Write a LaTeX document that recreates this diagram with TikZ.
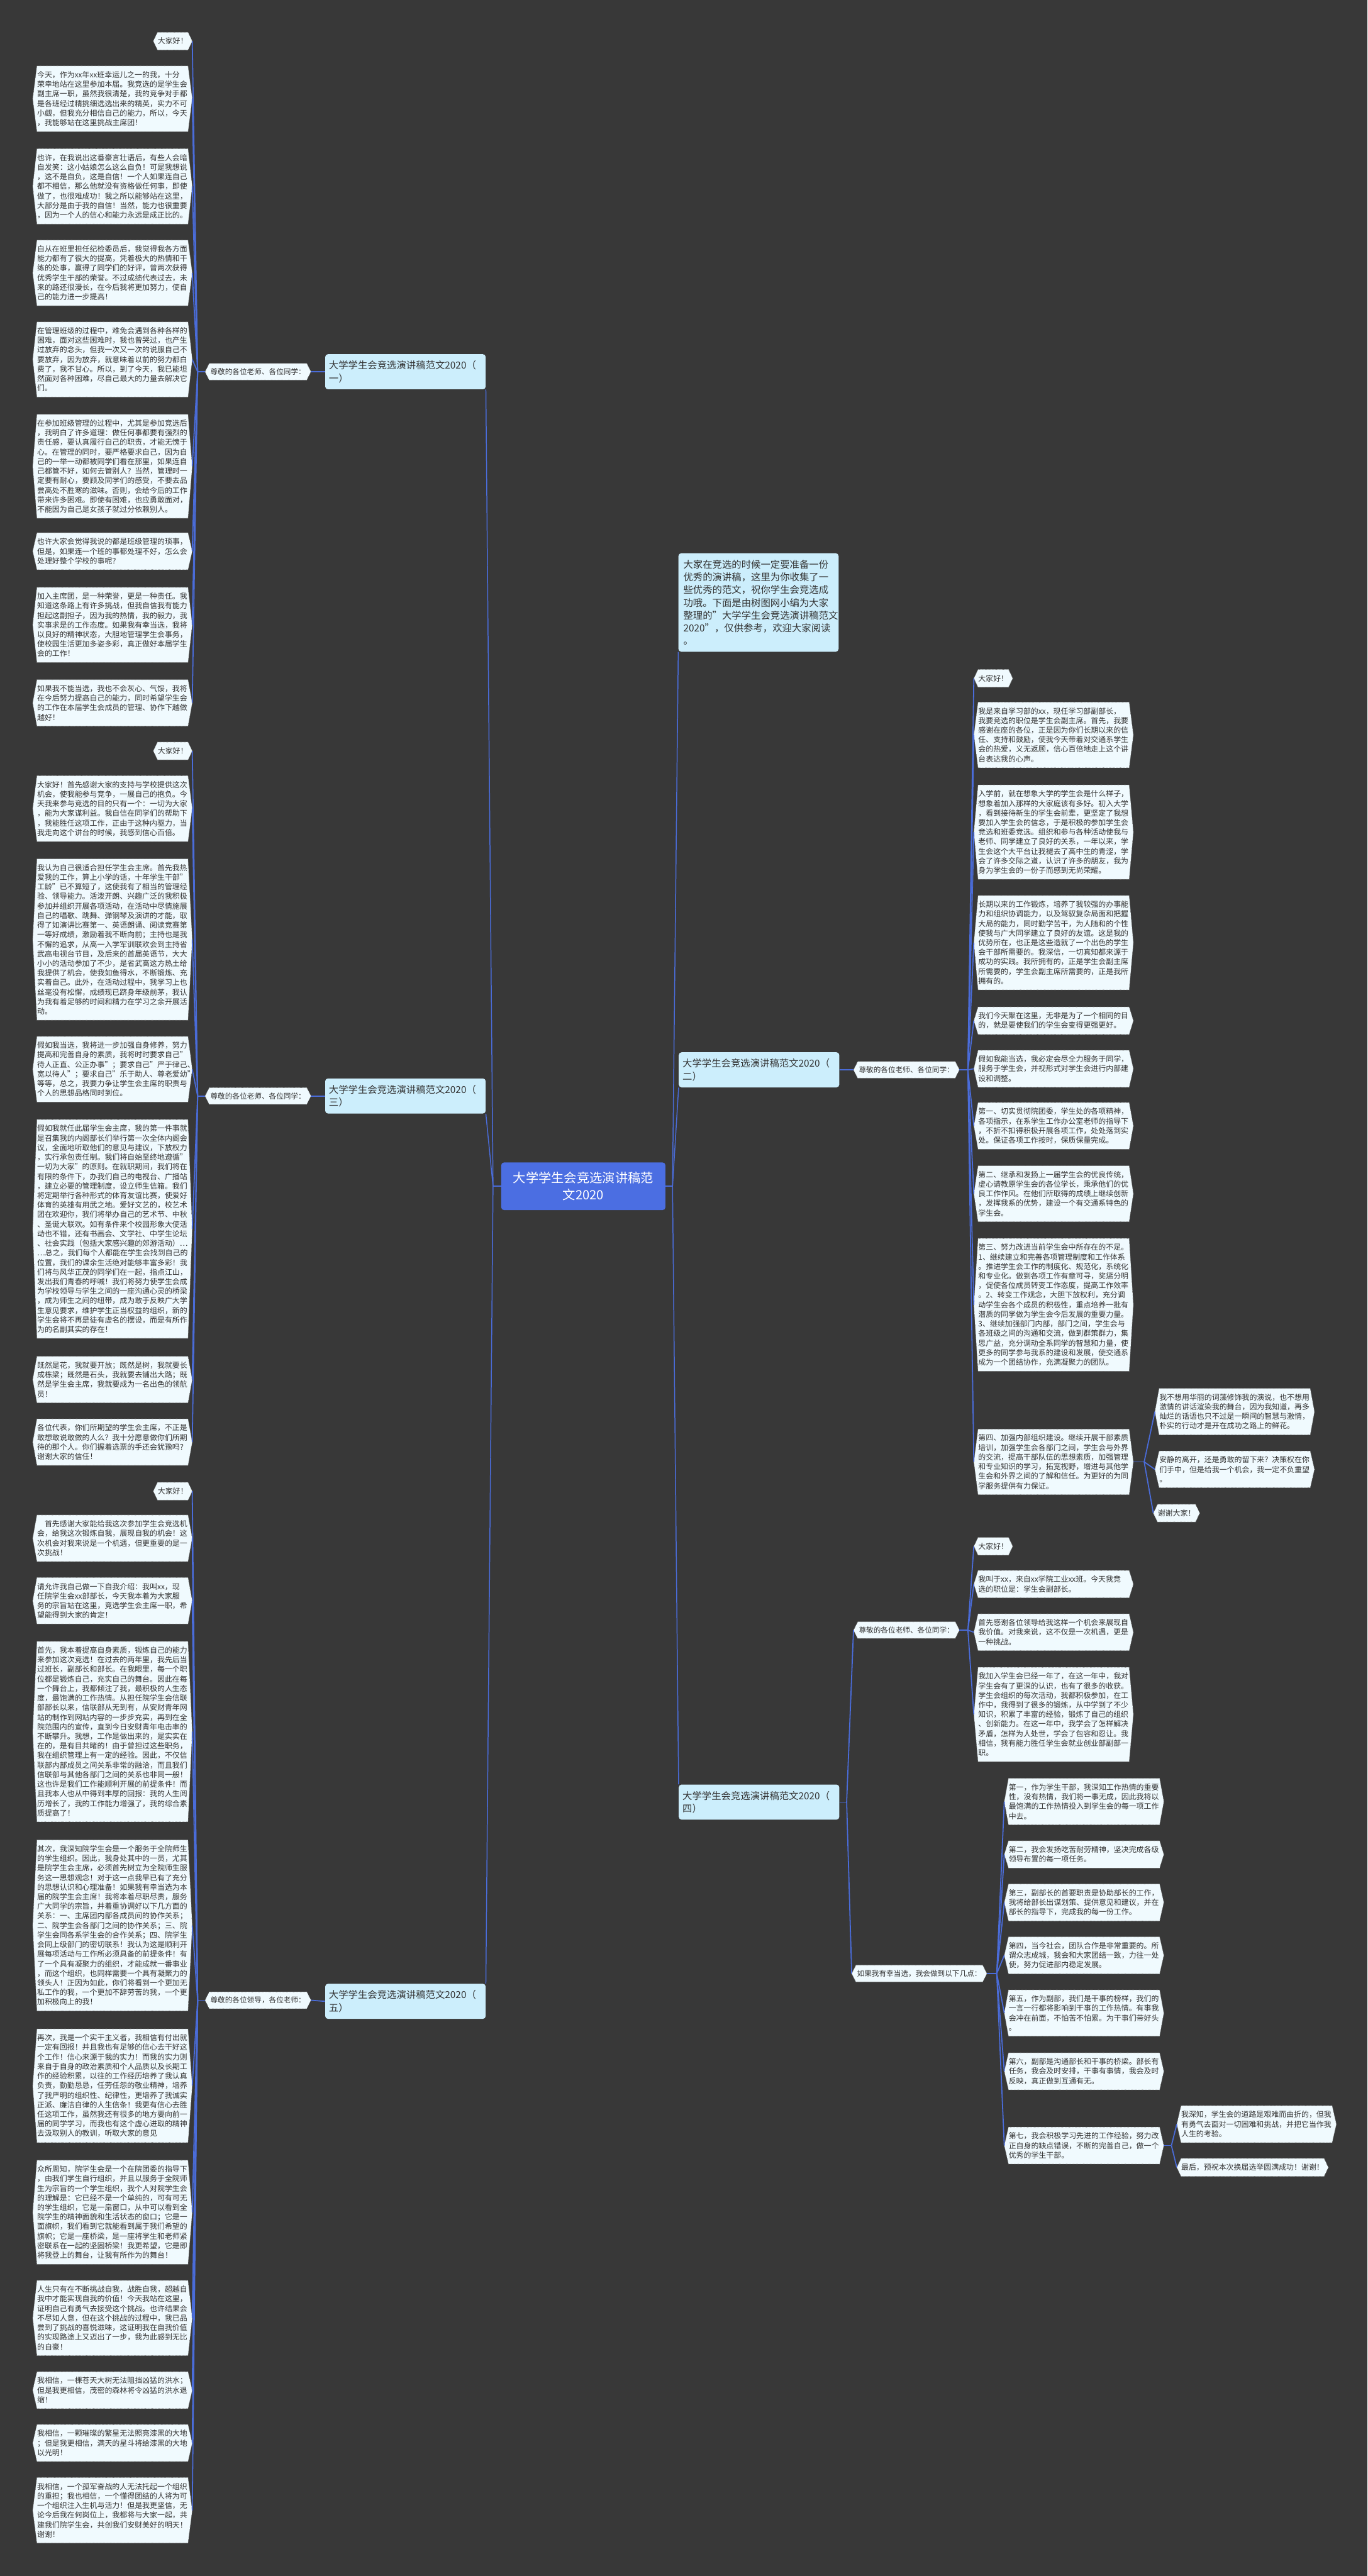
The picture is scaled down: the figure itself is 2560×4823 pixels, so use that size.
\documentclass[tikz,border=0pt]{standalone}
\usepackage{fontspec}
\setmainfont{Noto Sans CJK SC}
\setlength{\parindent}{0pt}

\definecolor{bgdark}{HTML}{383838}
\definecolor{linkblue}{HTML}{4A6CD9}
\definecolor{rootblue}{HTML}{4B6EE2}
\definecolor{branchfill}{HTML}{CCEEFC}
\definecolor{leaffill}{HTML}{F0FAFE}
\definecolor{inkgray}{HTML}{333333}

\makeatletter
\def\hextip{4.5pt}
\pgfdeclareshape{hexbox}{%
  \inheritsavedanchors[from=rectangle]%
  \inheritanchorborder[from=rectangle]%
  \inheritanchor[from=rectangle]{center}%
  \inheritanchor[from=rectangle]{north}%
  \inheritanchor[from=rectangle]{south}%
  \inheritanchor[from=rectangle]{east}%
  \inheritanchor[from=rectangle]{west}%
  \inheritanchor[from=rectangle]{north east}%
  \inheritanchor[from=rectangle]{north west}%
  \inheritanchor[from=rectangle]{south east}%
  \inheritanchor[from=rectangle]{south west}%
  \anchor{tip east}{\southwest\pgf@ya=\pgf@y\northeast\pgf@y=.5\pgf@y\advance\pgf@y by .5\pgf@ya\advance\pgf@x by \hextip}%
  \anchor{tip west}{\northeast\pgf@ya=\pgf@y\southwest\pgf@y=.5\pgf@y\advance\pgf@y by .5\pgf@ya\advance\pgf@x by -\hextip}%
  \backgroundpath{%
    \southwest\edef\hxl{\the\pgf@x}\edef\hxb{\the\pgf@y}%
    \northeast\edef\hxr{\the\pgf@x}\edef\hxt{\the\pgf@y}%
    \pgfmathsetlengthmacro\hxm{(\hxb+\hxt)/2}%
    \pgfpathmoveto{\pgfpoint{\hxl}{\hxb}}%
    \pgfpathlineto{\pgfpoint{\hxr}{\hxb}}%
    \pgfpathlineto{\pgfpoint{\hxr+\hextip}{\hxm}}%
    \pgfpathlineto{\pgfpoint{\hxr}{\hxt}}%
    \pgfpathlineto{\pgfpoint{\hxl}{\hxt}}%
    \pgfpathlineto{\pgfpoint{\hxl-\hextip}{\hxm}}%
    \pgfpathclose
  }%
}
\makeatother

\begin{document}
\begin{tikzpicture}[x=0.02cm, y=-0.02cm,
  root/.style={rectangle, rounded corners=3pt, fill=rootblue, text=white,
    text width=160pt, align=center, inner xsep=7.5pt, inner ysep=10pt,
    font=\fontsize{13.6pt}{18.1pt}\selectfont},
  branch/.style={rectangle, rounded corners=3pt, fill=branchfill, text=inkgray,
    text width=163pt, align=left, inner xsep=4pt, inner ysep=7pt,
    font=\fontsize{10.3pt}{13.6pt}\selectfont},
  tag/.style={hexbox, fill=leaffill, draw=black!55, densely dotted, line width=0.5pt,
    text=inkgray, inner xsep=1pt, inner ysep=5pt,
    font=\fontsize{7.8pt}{9pt}\selectfont},
  leaf/.style={tag, inner xsep=0pt, inner ysep=5.5pt,
    font=\fontsize{8pt}{10.2pt}\selectfont},
  para/.style={leaf, text width=160.5pt, align=left},
  link/.style={draw=linkblue, line width=1.2pt},
  trunk/.style={draw=linkblue, line width=1pt}
]
\fill[bgdark] (0,0) rectangle (2560,4823);

\node[root] (root) at (1092,2221) {大学学生会竞选演讲稿范\\文2020};

\node[branch] (b1) at (759,696) {大学学生会竞选演讲稿范文2020（\\一）};
\node[branch] (b3) at (759,2052) {大学学生会竞选演讲稿范文2020（\\三）};
\node[branch] (b5) at (759,3747) {大学学生会竞选演讲稿范文2020（\\五）};
\node[branch, text width=160pt, inner xsep=5.3pt] (intro) at (1420,1128) {大家在竞选的时候一定要准备一份\\优秀的演讲稿，这里为你收集了一\\些优秀的范文，祝你学生会竞选成\\功哦。下面是由树图网小编为大家\\整理的"大学学生会竞选演讲稿范文\\2020"，仅供参考，欢迎大家阅读\\。};
\node[branch] (b2) at (1421,2003) {大学学生会竞选演讲稿范文2020（\\二）};
\node[branch] (b4) at (1421,3374) {大学学生会竞选演讲稿范文2020（\\四）};

\node[tag] (ta) at (483,696) {尊敬的各位老师、各位同学：};
\node[tag] (tc) at (483,2052) {尊敬的各位老师、各位同学：};
\node[tag] (te) at (483,3745) {尊敬的各位领导，各位老师：};
\node[tag] (tb) at (1697,2003) {尊敬的各位老师、各位同学：};
\node[tag] (td) at (1697,3052) {尊敬的各位老师、各位同学：};
\node[tag] (tf) at (1721,3695) {如果我有幸当选，我会做到以下几点：};

\node[leaf, anchor=east] (a1) at (352,77) {大家好！};
\node[para, anchor=east] (a2) at (352,185) {今天，作为xx年xx班幸运儿之一的我，十分\\荣幸地站在这里参加本届。我竞选的是学生会\\副主席一职，虽然我很清楚，我的竞争对手都\\是各班经过精挑细选选出来的精英，实力不可\\小觑，但我充分相信自己的能力，所以，今天\\，我能够站在这里挑战主席团！};
\node[para, anchor=east] (a3) at (352,349) {也许，在我说出这番豪言壮语后，有些人会暗\\自发笑：这小姑娘怎么这么自负！可是我想说\\，这不是自负，这是自信！一个人如果连自己\\都不相信，那么他就没有资格做任何事，即使\\做了，也很难成功！我之所以能够站在这里，\\大部分是由于我的自信！当然，能力也很重要\\，因为一个人的信心和能力永远是成正比的。};
\node[para, anchor=east] (a4) at (352,511) {自从在班里担任纪检委员后，我觉得我各方面\\能力都有了很大的提高，凭着极大的热情和干\\练的处事，赢得了同学们的好评，曾两次获得\\优秀学生干部的荣誉。不过成绩代表过去，未\\来的路还很漫长，在今后我将更加努力，使自\\己的能力进一步提高！};
\node[para, anchor=east] (a5) at (352,673) {在管理班级的过程中，难免会遇到各种各样的\\困难，面对这些困难时，我也曾哭过，也产生\\过放弃的念头，但我一次又一次的说服自己不\\要放弃，因为放弃，就意味着以前的努力都白\\费了，我不甘心。所以，到了今天，我已能坦\\然面对各种困难，尽自己最大的力量去解决它\\们。};
\node[para, anchor=east] (a6) at (352,873) {在参加班级管理的过程中，尤其是参加竞选后\\，我明白了许多道理：做任何事都要有强烈的\\责任感，要认真履行自己的职责，才能无愧于\\心。在管理的同时，要严格要求自己，因为自\\己的一举一动都被同学们看在那里，如果连自\\己都管不好，如何去管别人？当然，管理时一\\定要有耐心，要顾及同学们的感受，不要去品\\尝高处不胜寒的滋味。否则，会给今后的工作\\带来许多困难。即使有困难，也应勇敢面对，\\不能因为自己是女孩子就过分依赖别人。};
\node[para, anchor=east] (a7) at (352,1032) {也许大家会觉得我说的都是班级管理的琐事，\\但是，如果连一个班的事都处理不好，怎么会\\处理好整个学校的事呢？};
\node[para, anchor=east] (a8) at (352,1170) {加入主席团，是一种荣誉，更是一种责任。我\\知道这条路上有许多挑战，但我自信我有能力\\担起这副担子，因为我的热情，我的毅力，我\\实事求是的工作态度。如果我有幸当选，我将\\以良好的精神状态，大胆地管理学生会事务，\\使校园生活更加多姿多彩，真正做好本届学生\\会的工作！};
\node[para, anchor=east] (a9) at (352,1316) {如果我不能当选，我也不会灰心、气馁，我将\\在今后努力提高自己的能力，同时希望学生会\\的工作在本届学生会成员的管理、协作下越做\\越好！};

\node[leaf, anchor=east] (c1) at (352,1406) {大家好！};
\node[para, anchor=east] (c2) at (352,1514) {大家好！首先感谢大家的支持与学校提供这次\\机会，使我能参与竞争，一展自己的抱负。今\\天我来参与竞选的目的只有一个：一切为大家\\，能为大家谋利益。我自信在同学们的帮助下\\，我能胜任这项工作，正由于这种内驱力，当\\我走向这个讲台的时候，我感到信心百倍。};
\node[para, anchor=east] (c3) at (352,1759) {我认为自己很适合担任学生会主席。首先我热\\爱我的工作，算上小学的话，十年学生干部"\\工龄"已不算短了，这使我有了相当的管理经\\验、领导能力。活泼开朗、兴趣广泛的我积极\\参加并组织开展各项活动，在活动中尽情施展\\自己的唱歌、跳舞、弹钢琴及演讲的才能，取\\得了如演讲比赛第一、英语朗诵、阅读竞赛第\\一等好成绩，激励着我不断向前；主持也是我\\不懈的追求，从高一入学军训联欢会到主持省\\武高电视台节目，及后来的首届英语节，大大\\小小的活动参加了不少，是省武高这方热土给\\我提供了机会，使我如鱼得水，不断锻炼、充\\实着自己。此外，在活动过程中，我学习上也\\丝毫没有松懈，成绩现已跻身年级前茅，我认\\为我有着足够的时间和精力在学习之余开展活\\动。};
\node[para, anchor=east] (c4) at (352,2002) {假如我当选，我将进一步加强自身修养，努力\\提高和完善自身的素质，我将时时要求自己"\\待人正直、公正办事"；要求自己"严于律己、\\宽以待人"；要求自己"乐于助人、尊老爱幼"\\等等，总之，我要力争让学生会主席的职责与\\个人的思想品格同时到位。};
\node[para, anchor=east] (c5) at (352,2301) {假如我就任此届学生会主席，我的第一件事就\\是召集我的内阁部长们举行第一次全体内阁会\\议，全面地听取他们的意见与建议，下放权力\\，实行承包责任制。我们将自始至终地遵循"\\一切为大家"的原则。在就职期间，我们将在\\有限的条件下，办我们自己的电视台、广播站\\，建立必要的管理制度，设立师生信箱。我们\\将定期举行各种形式的体育友谊比赛，使爱好\\体育的英雄有用武之地。爱好文艺的，校艺术\\团在欢迎你，我们将举办自己的艺术节、中秋\\、圣诞大联欢。如有条件来个校园形象大使活\\动也不错，还有书画会、文学社、中学生论坛\\、社会实践（包括大家感兴趣的郊游活动）…\\…总之，我们每个人都能在学生会找到自己的\\位置，我们的课余生活绝对能够丰富多彩！我\\们将与风华正茂的同学们在一起，指点江山，\\发出我们青春的呼喊！我们将努力使学生会成\\为学校领导与学生之间的一座沟通心灵的桥梁\\，成为师生之间的纽带，成为敢于反映广大学\\生意见要求，维护学生正当权益的组织，新的\\学生会将不再是徒有虚名的摆设，而是有所作\\为的名副其实的存在！};
\node[para, anchor=east] (c6) at (352,2583) {既然是花，我就要开放；既然是树，我就要长\\成栋梁；既然是石头，我就要去铺出大路；既\\然是学生会主席，我就要成为一名出色的领航\\员！};
\node[para, anchor=east] (c7) at (352,2700) {各位代表，你们所期望的学生会主席，不正是\\敢想敢说敢做的人么？我十分愿意做你们所期\\待的那个人。你们握着选票的手还会犹豫吗？\\谢谢大家的信任！};

\node[leaf, anchor=east] (e1) at (352,2792) {大家好！};
\node[para, anchor=east] (e2) at (352,2880) {\hspace*{1em}首先感谢大家能给我这次参加学生会竞选机\\会，给我这次锻炼自我，展现自我的机会！这\\次机会对我来说是一个机遇，但更重要的是一\\次挑战！};
\node[para, anchor=east] (e3) at (352,2997) {请允许我自己做一下自我介绍：我叫xx，现\\任院学生会xx部部长，今天我本着为大家服\\务的宗旨站在这里，竞选学生会主席一职，希\\望能得到大家的肯定！};
\node[para, anchor=east] (e4) at (352,3242) {首先，我本着提高自身素质，锻炼自己的能力\\来参加这次竞选！在过去的两年里，我先后当\\过班长，副部长和部长。在我眼里，每一个职\\位都是锻炼自己，充实自己的舞台。因此在每\\一个舞台上，我都倾注了我，最积极的人生态\\度，最饱满的工作热情。从担任院学生会信联\\部部长以来，信联部从无到有，从安财青年网\\站的制作到网站内容的一步步充实，再到在全\\院范围内的宣传，直到今日安财青年电击率的\\不断攀升。我想，工作是做出来的，是实实在\\在的，是有目共睹的！由于曾担过这些职务，\\我在组织管理上有一定的经验。因此，不仅信\\联部内部成员之间关系非常的融洽，而且我们\\信联部与其他各部门之间的关系也非同一般！\\这也许是我们工作能顺利开展的前提条件！而\\且我本人也从中得到丰厚的回报：我的人生阅\\历增长了，我的工作能力增强了，我的综合素\\质提高了！};
\node[para, anchor=east] (e5) at (352,3605) {其次，我深知院学生会是一个服务于全院师生\\的学生组织。因此，我身处其中的一员，尤其\\是院学生会主席，必须首先树立为全院师生服\\务这一思想观念！对于这一点我早已有了充分\\的思想认识和心理准备！如果我有幸当选为本\\届的院学生会主席！我将本着尽职尽责，服务\\广大同学的宗旨，并着重协调好以下几方面的\\关系：一、主席团内部各成员间的协作关系；\\二、院学生会各部门之间的协作关系；三、院\\学生会同各系学生会的合作关系；四、院学生\\会同上级部门的密切联系！我认为这是顺利开\\展每项活动与工作所必须具备的前提条件！有\\了一个具有凝聚力的组织，才能成就一番事业\\，而这个组织，也同样需要一个具有凝聚力的\\领头人！正因为如此，你们将看到一个更加无\\私工作的我，一个更加不辞劳苦的我，一个更\\加积极向上的我！};
\node[para, anchor=east] (e6) at (352,3905) {再次，我是一个实干主义者，我相信有付出就\\一定有回报！并且我也有足够的信心去干好这\\个工作！信心来源于我的实力！而我的实力则\\来自于自身的政治素质和个人品质以及长期工\\作的经验积累，以往的工作经历培养了我认真\\负责，勤勤恳恳，任劳任怨的敬业精神，培养\\了我严明的组织性、纪律性，更培养了我诚实\\正派、廉洁自律的人生信条！我更有信心去胜\\任这项工作，虽然我还有很多的地方要向前一\\届的同学学习，而我也有这个虚心进取的精神\\去汲取别人的教训，听取大家的意见};
\node[para, anchor=east] (e7) at (352,4142) {众所周知，院学生会是一个在院团委的指导下\\，由我们学生自行组织，并且以服务于全院师\\生为宗旨的一个学生组织，我个人对院学生会\\的理解是：它已经不是一个单纯的，可有可无\\的学生组织，它是一扇窗口，从中可以看到全\\院学生的精神面貌和生活状态的窗口；它是一\\面旗帜，我们看到它就能看到属于我们希望的\\旗帜；它是一座桥梁，是一座将学生和老师紧\\密联系在一起的坚固桥梁！我更希望，它是即\\将我登上的舞台，让我有所作为的舞台！};
\node[para, anchor=east] (e8) at (352,4340) {人生只有在不断挑战自我，战胜自我，超越自\\我中才能实现自我的价值！今天我站在这里，\\证明自己有勇气去接受这个挑战。也许结果会\\不尽如人意，但在这个挑战的过程中，我已品\\尝到了挑战的喜悦滋味，这证明我在自我价值\\的实现路途上又迈出了一步，我为此感到无比\\的自豪！};
\node[para, anchor=east] (e9) at (352,4475) {我相信，一棵苍天大树无法阻挡凶猛的洪水；\\但是我更相信，茂密的森林将令凶猛的洪水退\\缩！};
\node[para, anchor=east] (e10) at (352,4574) {我相信，一颗璀璨的繁星无法照亮漆黑的大地\\；但是我更相信，满天的星斗将给漆黑的大地\\以光明！};
\node[para, anchor=east] (e11) at (352,4700) {我相信，一个孤军奋战的人无法托起一个组织\\的重担；我也相信，一个懂得团结的人将为可\\一个组织注入生机与活力！但是我更坚信，无\\论今后我在何岗位上，我都将与大家一起，共\\建我们院学生会，共创我们安财美好的明天！\\谢谢！};

\node[leaf, anchor=west] (r1) at (1831,1270) {大家好！};
\node[para, anchor=west] (r2) at (1831,1376) {我是来自学习部的xx，现任学习部副部长，\\我要竞选的职位是学生会副主席。首先，我要\\感谢在座的各位，正是因为你们长期以来的信\\任、支持和鼓励，使我今天带着对交通系学生\\会的热爱，义无返顾，信心百倍地走上这个讲\\台表达我的心声。};
\node[para, anchor=west] (r3) at (1831,1558) {入学前，就在想象大学的学生会是什么样子，\\想象着加入那样的大家庭该有多好。初入大学\\，看到接待新生的学生会前辈，更坚定了我想\\要加入学生会的信念，于是积极的参加学生会\\竞选和班委竞选。组织和参与各种活动使我与\\老师、同学建立了良好的关系，一年以来，学\\生会这个大平台让我褪去了高中生的青涩，学\\会了许多交际之道，认识了许多的朋友，我为\\身为学生会的一份子而感到无尚荣耀。};
\node[para, anchor=west] (r4) at (1831,1765) {长期以来的工作锻炼，培养了我较强的办事能\\力和组织协调能力，以及驾驭复杂局面和把握\\大局的能力，同时勤学苦干，为人随和的个性\\使我与广大同学建立了良好的友谊。这是我的\\优势所在，也正是这些造就了一个出色的学生\\会干部所需要的。我深信，一切真知都来源于\\成功的实践。我所拥有的，正是学生会副主席\\所需要的，学生会副主席所需要的，正是我所\\拥有的。};
\node[para, anchor=west] (r5) at (1831,1911) {我们今天聚在这里，无非是为了一个相同的目\\的，就是要使我们的学生会变得更强更好。};
\node[para, anchor=west] (r6) at (1831,2001) {假如我能当选，我必定会尽全力服务于同学，\\服务于学生会，并视形式对学生会进行内部建\\设和调整。};
\node[para, anchor=west] (r7) at (1831,2108) {第一、切实贯彻院团委，学生处的各项精神，\\各项指示，在系学生工作办公室老师的指导下\\，不折不扣得积极开展各项工作，处处落到实\\处。保证各项工作按时，保质保量完成。};
\node[para, anchor=west] (r8) at (1831,2235) {第二、继承和发扬上一届学生会的优良传统，\\虚心请教原学生会的各位学长，秉承他们的优\\良工作作风。在他们所取得的成绩上继续创新\\，发挥我系的优势，建设一个有交通系特色的\\学生会。};
\node[para, anchor=west] (r9) at (1831,2443) {第三、努力改进当前学生会中所存在的不足。\\1、继续建立和完善各项管理制度和工作体系\\。推进学生会工作的制度化、规范化，系统化\\和专业化。做到各项工作有章可寻，奖惩分明\\，促使各位成员转变工作态度，提高工作效率\\。2、转变工作观念，大胆下放权利，充分调\\动学生会各个成员的积极性，重点培养一批有\\潜质的同学做为学生会今后发展的重要力量。\\3、继续加强部门内部，部门之间，学生会与\\各班级之间的沟通和交流，做到群策群力，集\\思广益，充分调动全系同学的智慧和力量，使\\更多的同学参与我系的建设和发展，使交通系\\成为一个团结协作，充满凝聚力的团队。};
\node[para, anchor=west] (r10) at (1831,2737) {第四、加强内部组织建设。继续开展干部素质\\培训，加强学生会各部门之间，学生会与外界\\的交流，提高干部队伍的思想素质，加强管理\\和专业知识的学习，拓宽视野，增进与其他学\\生会和外界之间的了解和信任。为更好的为同\\学服务提供有力保证。};
\node[para, anchor=west] (q1) at (2170,2643) {我不想用华丽的词藻修饰我的演说，也不想用\\激情的讲话渲染我的舞台，因为我知道，再多\\灿烂的话语也只不过是一瞬间的智慧与激情，\\朴实的行动才是开在成功之路上的鲜花。};
\node[para, anchor=west] (q2) at (2170,2751) {安静的离开，还是勇敢的留下来？决策权在你\\们手中，但是给我一个机会，我一定不负重望\\。};
\node[leaf, anchor=west] (q3) at (2167,2833) {谢谢大家！};

\node[leaf, anchor=west] (s1) at (1831,2895) {大家好！};
\node[para, anchor=west] (s2) at (1831,2966) {我叫于xx，来自xx学院工业xx班。今天我竞\\选的职位是：学生会副部长。};
\node[para, anchor=west] (s3) at (1831,3056) {首先感谢各位领导给我这样一个机会来展现自\\我价值。对我来说，这不仅是一次机遇，更是\\一种挑战。};
\node[para, anchor=west] (s4) at (1831,3210) {我加入学生会已经一年了，在这一年中，我对\\学生会有了更深的认识，也有了很多的收获。\\学生会组织的每次活动，我都积极参加，在工\\作中，我得到了很多的锻炼，从中学到了不少\\知识，积累了丰富的经验，锻炼了自己的组织\\、创新能力。在这一年中，我学会了怎样解决\\矛盾，怎样为人处世，学会了包容和忍让。我\\相信，我有能力胜任学生会就业创业部副部一\\职。};

\node[para, anchor=west] (t1) at (1888,3373) {第一，作为学生干部，我深知工作热情的重要\\性，没有热情，我们将一事无成，因此我将以\\最饱满的工作热情投入到学生会的每一项工作\\中去。};
\node[para, anchor=west] (t2) at (1888,3472) {第二，我会发扬吃苦耐劳精神，坚决完成各级\\领导布置的每一项任务。};
\node[para, anchor=west] (t3) at (1888,3562) {第三，副部长的首要职责是协助部长的工作，\\我将给部长出谋划策、提供意见和建议，并在\\部长的指导下，完成我的每一份工作。};
\node[para, anchor=west] (t4) at (1888,3661) {第四，当今社会，团队合作是非常重要的。所\\谓众志成城，我会和大家团结一致，力往一处\\使，努力促进部内稳定发展。};
\node[para, anchor=west] (t5) at (1888,3769) {第五，作为副部，我们是干事的榜样，我们的\\一言一行都将影响到干事的工作热情。有事我\\会冲在前面，不怕苦不怕累。为干事们带好头\\。};
\node[para, anchor=west] (t6) at (1888,3878) {第六，副部是沟通部长和干事的桥梁。部长有\\任务，我会及时安排，干事有事情，我会及时\\反映，真正做到互通有无。};
\node[para, anchor=west] (t7) at (1888,4017) {第七，我会积极学习先进的工作经验，努力改\\正自身的缺点错误，不断的完善自己，做一个\\优秀的学生干部。};
\node[para, anchor=west] (u1) at (2211,3977) {我深知，学生会的道路是艰难而曲折的，但我\\有勇气去面对一切困难和挑战，并把它当作我\\人生的考验。};
\node[leaf, anchor=west] (u2) at (2211,4058) {最后，预祝本次换届选举圆满成功！谢谢！};

\coordinate (jl) at (923,2221);
\coordinate (jr) at (1259,2221);
\coordinate (ja) at (370,696);
\coordinate (jc) at (370,2052);
\coordinate (je) at (370,3745);
\coordinate (jb) at (1812,2003);
\coordinate (jd) at (1585,3374);
\coordinate (jd1) at (1812,3052);
\coordinate (jf) at (1866,3695);
\coordinate (jq) at (2142,2737);
\coordinate (ju) at (2193,4017);

\draw[trunk] (root.west) -- (jl);
\draw[trunk] (jl) -- (b1.south east);
\draw[trunk] (jl) -- (b3.south east);
\draw[trunk] (jl) -- (b5.north east);
\draw[trunk] (root.east) -- (jr);
\draw[trunk] (jr) -- (intro.south west);
\draw[trunk] (jr) -- (b2.south west);
\draw[trunk] (jr) -- (b4.north west);

\draw[link] (b1.west) -- (ta.tip east);
\draw[link] (ta.tip west) -- (ja);
\foreach \i in {1,...,9} \draw[link] (ja) -- (a\i.tip east);
\draw[link] (b3.west) -- (tc.tip east);
\draw[link] (tc.tip west) -- (jc);
\foreach \i in {1,...,7} \draw[link] (jc) -- (c\i.tip east);
\draw[link] (b5.west) -- (te.tip east);
\draw[link] (te.tip west) -- (je);
\foreach \i in {1,...,11} \draw[link] (je) -- (e\i.tip east);

\draw[link] (b2.east) -- (tb.tip west);
\draw[link] (tb.tip east) -- (jb);
\foreach \i in {1,...,10} \draw[link] (jb) -- (r\i.tip west);
\draw[link] (r10.tip east) -- (jq);
\foreach \i in {1,2,3} \draw[link] (jq) -- (q\i.tip west);

\draw[link] (b4.east) -- (jd);
\draw[link] (jd) -- (td.tip west);
\draw[link] (jd) -- (tf.tip west);
\draw[link] (td.tip east) -- (jd1);
\foreach \i in {1,...,4} \draw[link] (jd1) -- (s\i.tip west);
\draw[link] (tf.tip east) -- (jf);
\foreach \i in {1,...,7} \draw[link] (jf) -- (t\i.tip west);
\draw[link] (t7.tip east) -- (ju);
\foreach \i in {1,2} \draw[link] (ju) -- (u\i.tip west);
\end{tikzpicture}
\end{document}
